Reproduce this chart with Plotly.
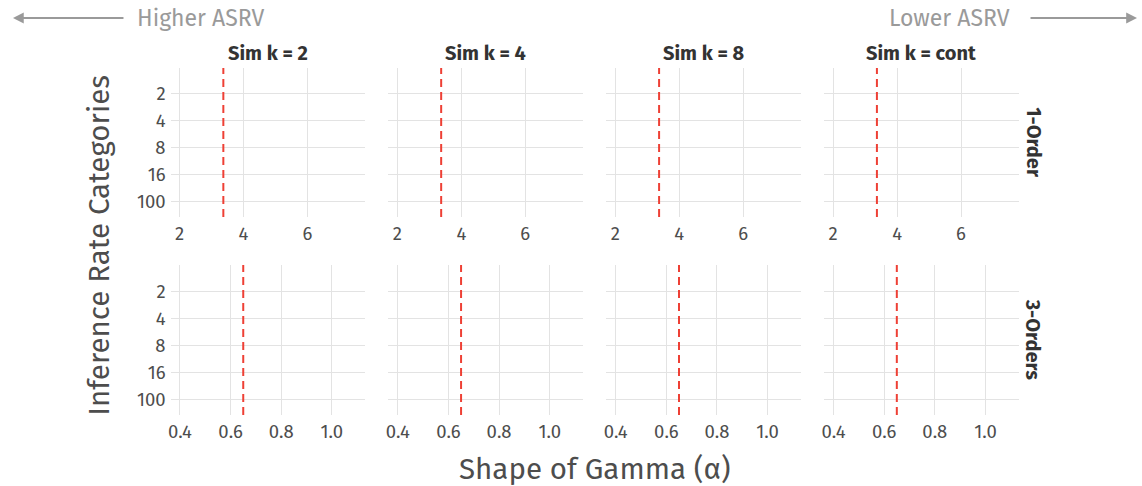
import plotly.graph_objects as go
from plotly.subplots import make_subplots

# ---- data ----
col_titles = ["Sim k = 2", "Sim k = 4", "Sim k = 8", "Sim k = cont"]
row_titles = ["1-Order", "3-Orders"]
y_categories = ["2", "4", "8", "16", "100"]
vline_alpha = [3.37, 0.65]          # true alpha reference line per row
x_ticks_row = [[2, 4, 6], [0.4, 0.6, 0.8, 1.0]]
x_ticktext_row = [["2", "4", "6"], ["0.4", "0.6", "0.8", "1.0"]]

W, H = 1142, 486
FONT = "Fira Sans, Noto Sans, sans-serif"

fig = make_subplots(rows=2, cols=4)

col_left = [168, 386.4, 604.9, 823.3]
col_w = 195
row_px = [(68, 217), (265, 415)]
x_ranges = [[1.72, 7.8], [0.363, 1.131]]
y_ranges = [[4.58, -0.94], [4.58, -1.0]]

for r in range(2):
    for c in range(4):
        idx = r * 4 + c + 1
        xa = "xaxis" if idx == 1 else f"xaxis{idx}"
        ya = "yaxis" if idx == 1 else f"yaxis{idx}"
        xs = "x" if idx == 1 else f"x{idx}"
        ys = "y" if idx == 1 else f"y{idx}"
        fig.add_trace(go.Scatter(x=[], y=[], mode="markers", showlegend=False, hoverinfo="skip"),
                      row=r + 1, col=c + 1)
        x0 = col_left[c] / W
        x1 = (col_left[c] + col_w) / W
        y1 = 1 - row_px[r][0] / H
        y0 = 1 - row_px[r][1] / H
        fig.layout[xa].update(
            domain=[x0, x1], range=x_ranges[r], tickvals=x_ticks_row[r],
            ticktext=x_ticktext_row[r], showgrid=True, gridcolor="#e3e3e3", gridwidth=1.2,
            zeroline=False, showline=False, ticks="", ticklabelstandoff=3,
            tickfont=dict(family=FONT, size=18.5, color="#4d4d4d"),
        )
        fig.layout[ya].update(
            domain=[y0, y1], range=y_ranges[r], tickvals=list(range(len(y_categories))),
            ticktext=y_categories, showticklabels=(c == 0), showgrid=True,
            gridcolor="#e3e3e3", gridwidth=1.2, zeroline=False, showline=False, ticks="",
            ticklabelstandoff=4,
            tickfont=dict(family=FONT, size=18.5, color="#4d4d4d"),
        )
        fig.add_shape(type="line", xref=xs, yref=f"{ys} domain",
                      x0=vline_alpha[r], x1=vline_alpha[r], y0=0, y1=1,
                      line=dict(color="#ee4035", width=2, dash="8px,5px"))

def ann(text, x, y, size, color, angle=0):
    fig.add_annotation(text=text, xref="paper", yref="paper", x=x / W, y=1 - y / H,
                       xanchor="center", yanchor="middle", textangle=angle,
                       showarrow=False, font=dict(family=FONT, size=size, color=color))

# column titles
for c, t in enumerate(col_titles):
    ann(f"<b>{t}</b>", col_left[c] + col_w / 2, 53, 20, "#333333")

# row titles
for r, t in enumerate(row_titles):
    ann(f"<b>{t}</b>", 1033, (row_px[r][0] + row_px[r][1]) / 2, 20, "#333333", 90)

# axis titles
ann("Inference Rate Categories", 96, 245, 29.5, "#4d4d4d", -90)
ann("Shape of Gamma (α)", 593, 469, 29.5, "#4d4d4d")

# ASRV direction hints
ann("Higher ASRV", 199, 18, 23, "#9a9a9a")
ann("Lower ASRV", 949, 18, 23, "#9a9a9a")
fig.add_annotation(text="", xref="paper", yref="paper", x=10 / W, y=1 - 18 / H,
                   ax=112, ay=0, showarrow=True, arrowhead=2, arrowsize=1.2,
                   arrowwidth=1.8, arrowcolor="#9a9a9a")
fig.add_annotation(text="", xref="paper", yref="paper", x=1137 / W, y=1 - 18 / H,
                   ax=-108, ay=0, showarrow=True, arrowhead=2, arrowsize=1.2,
                   arrowwidth=1.8, arrowcolor="#9a9a9a")

fig.update_layout(width=W, height=H, margin=dict(l=0, r=0, t=0, b=0),
                  plot_bgcolor="white", paper_bgcolor="white", showlegend=False,
                  font=dict(family=FONT))

fig.write_html("out.html")
